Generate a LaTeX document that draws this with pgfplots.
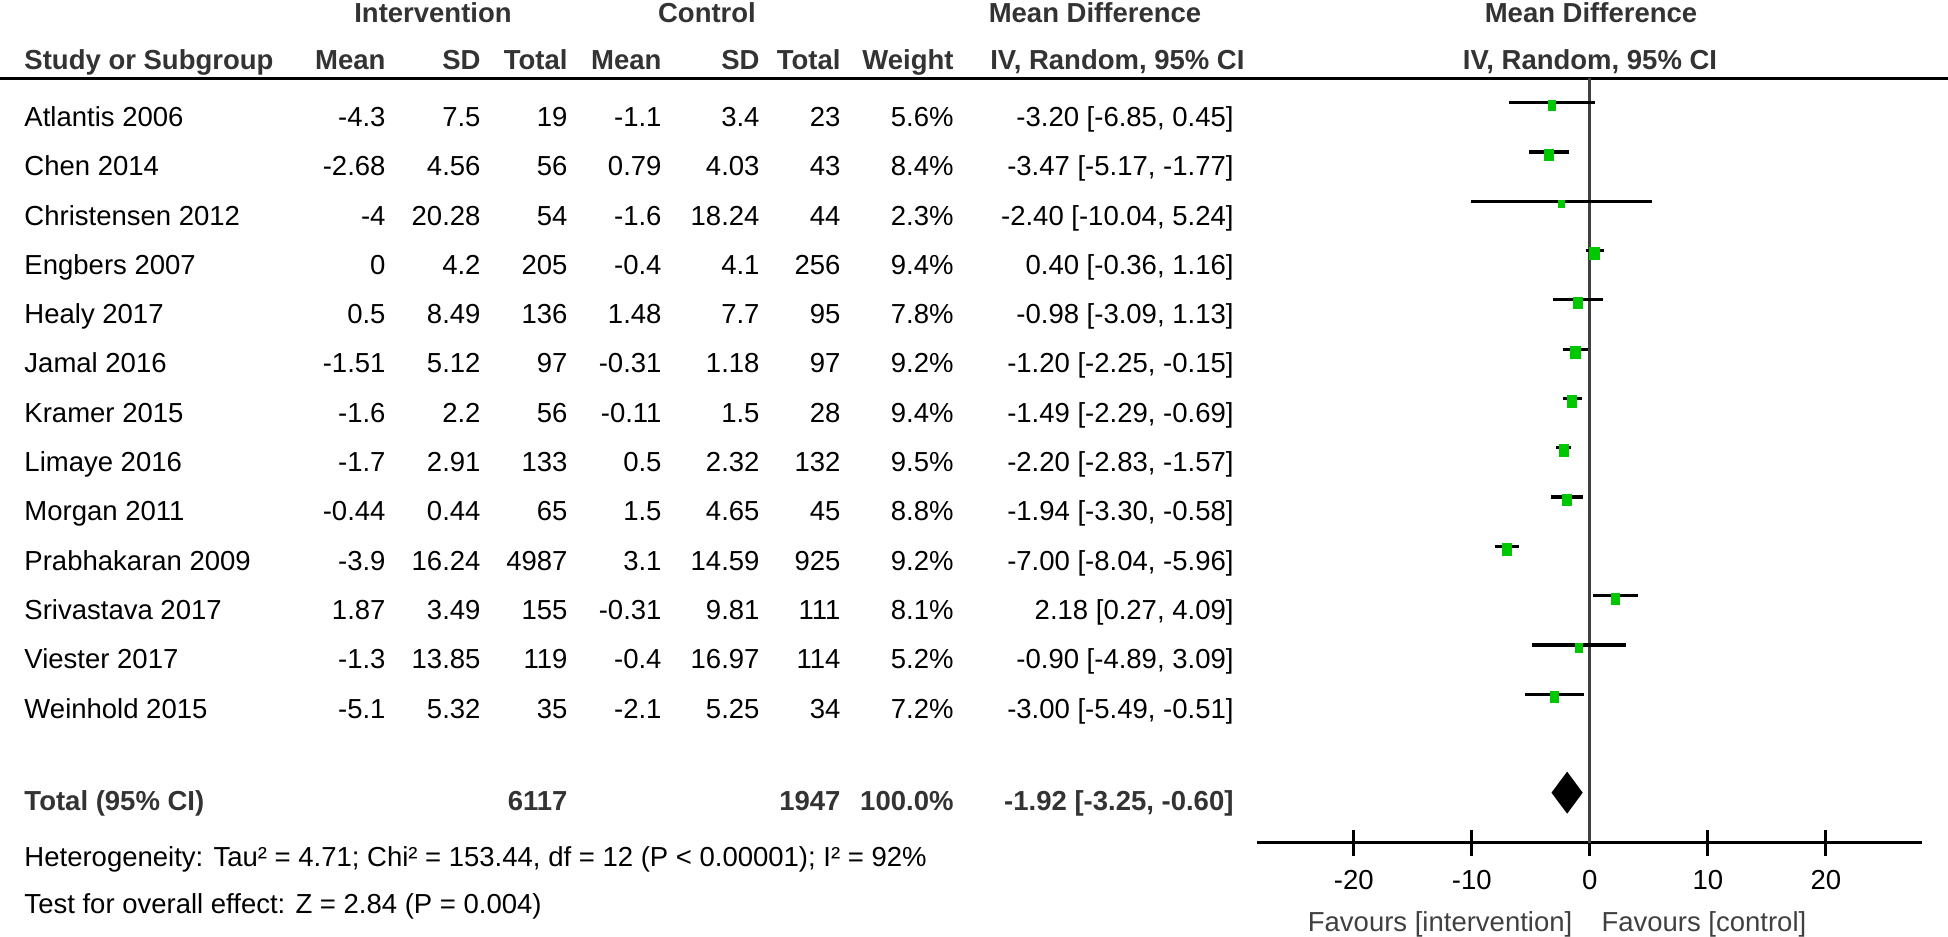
\documentclass[border=0pt]{standalone}
\usepackage{pgfplots}
\pgfplotsset{compat=1.18}
\usepackage{pgfplotstable}
\usepackage{fontspec}
\setmainfont{Liberation Sans}

\definecolor{hdr}{HTML}{333333}
\definecolor{sq}{HTML}{00C800}
\definecolor{zero}{HTML}{404040}
\newcommand\fs{\fontsize{11}{13.2}\selectfont}

% upright rectangle mark, a little taller than wide
\pgfdeclareplotmark{vrect}{%
  \pgfpathrectangle{\pgfpoint{-0.8\pgfplotmarksize}{-\pgfplotmarksize}}%
    {\pgfpoint{1.6\pgfplotmarksize}{2\pgfplotmarksize}}%
  \pgfusepathqfill}

% study rows: means, SDs, totals, weight (%), mean difference and 95% CI
\pgfplotstableread[col sep=semicolon]{
name;m1;sd1;n1;m2;sd2;n2;w;md;lo;hi;ci
Atlantis 2006;-4.3;7.5;19;-1.1;3.4;23;5.6;-3.20;-6.85;0.45;-3.20 [-6.85, 0.45]
Chen 2014;-2.68;4.56;56;0.79;4.03;43;8.4;-3.47;-5.17;-1.77;-3.47 [-5.17, -1.77]
Christensen 2012;-4;20.28;54;-1.6;18.24;44;2.3;-2.40;-10.04;5.24;-2.40 [-10.04, 5.24]
Engbers 2007;0;4.2;205;-0.4;4.1;256;9.4;0.40;-0.36;1.16;0.40 [-0.36, 1.16]
Healy 2017;0.5;8.49;136;1.48;7.7;95;7.8;-0.98;-3.09;1.13;-0.98 [-3.09, 1.13]
Jamal 2016;-1.51;5.12;97;-0.31;1.18;97;9.2;-1.20;-2.25;-0.15;-1.20 [-2.25, -0.15]
Kramer 2015;-1.6;2.2;56;-0.11;1.5;28;9.4;-1.49;-2.29;-0.69;-1.49 [-2.29, -0.69]
Limaye 2016;-1.7;2.91;133;0.5;2.32;132;9.5;-2.20;-2.83;-1.57;-2.20 [-2.83, -1.57]
Morgan 2011;-0.44;0.44;65;1.5;4.65;45;8.8;-1.94;-3.30;-0.58;-1.94 [-3.30, -0.58]
Prabhakaran 2009;-3.9;16.24;4987;3.1;14.59;925;9.2;-7.00;-8.04;-5.96;-7.00 [-8.04, -5.96]
Srivastava 2017;1.87;3.49;155;-0.31;9.81;111;8.1;2.18;0.27;4.09;2.18 [0.27, 4.09]
Viester 2017;-1.3;13.85;119;-0.4;16.97;114;5.2;-0.90;-4.89;3.09;-0.90 [-4.89, 3.09]
Weinhold 2015;-5.1;5.32;35;-2.1;5.25;34;7.2;-3.00;-5.49;-0.51;-3.00 [-5.49, -0.51]
}\studies

\pgfplotsset{
  rcol/.style={only marks, mark=none, point meta=explicit symbolic,
    nodes near coords={\pgfplotspointmeta},
    every node near coord/.append style={anchor=base east, inner sep=0pt, font=\fs, text=black}},
  lcol/.style={rcol, every node near coord/.append style={anchor=base west}},
}
\tikzset{
  hd/.style={font=\fs\bfseries, text=hdr, inner sep=0pt},
  tx/.style={font=\fs, text=black, inner sep=0pt},
}

\begin{document}
\begin{tikzpicture}
\begin{axis}[name=tab, hide axis, scale only axis, width=779.2pt, height=374.8pt,
    xmin=0, xmax=1948, ymin=0, ymax=937, y dir=reverse, clip=false,
    anchor=south west, at={(0,0)}]
  \addplot[black, line width=1.4pt] coordinates {(0,78.3) (1948,78.3)};

  \addplot[lcol] table[x expr=24, y expr=126.5+49.3*\coordindex, meta=name] {\studies};
  \addplot[rcol] table[x expr=386, y expr=126.5+49.3*\coordindex, meta=m1] {\studies};
  \addplot[rcol] table[x expr=481, y expr=126.5+49.3*\coordindex, meta=sd1] {\studies};
  \addplot[rcol] table[x expr=568, y expr=126.5+49.3*\coordindex, meta=n1] {\studies};
  \addplot[rcol] table[x expr=662, y expr=126.5+49.3*\coordindex, meta=m2] {\studies};
  \addplot[rcol] table[x expr=760, y expr=126.5+49.3*\coordindex, meta=sd2] {\studies};
  \addplot[rcol] table[x expr=841, y expr=126.5+49.3*\coordindex, meta=n2] {\studies};
  \addplot[rcol, nodes near coords={\pgfplotspointmeta\%}] table[x expr=954, y expr=126.5+49.3*\coordindex, meta=w] {\studies};
  \addplot[rcol] table[x expr=1234, y expr=126.5+49.3*\coordindex, meta=ci] {\studies};

  \node[hd, anchor=base] at (axis cs:433,22.5) {Intervention};
  \node[hd, anchor=base] at (axis cs:707,22.5) {Control};
  \node[hd, anchor=base] at (axis cs:1095,22.5) {Mean Difference};
  \node[hd, anchor=base] at (axis cs:1591,22.5) {Mean Difference};
  \node[hd, anchor=base west] at (axis cs:24,69.8) {Study or Subgroup};
  \node[hd, anchor=base east] at (axis cs:386,69.8) {Mean};
  \node[hd, anchor=base east] at (axis cs:481,69.8) {SD};
  \node[hd, anchor=base east] at (axis cs:568,69.8) {Total};
  \node[hd, anchor=base east] at (axis cs:662,69.8) {Mean};
  \node[hd, anchor=base east] at (axis cs:760,69.8) {SD};
  \node[hd, anchor=base east] at (axis cs:841,69.8) {Total};
  \node[hd, anchor=base east] at (axis cs:954,69.8) {Weight};
  \node[hd, anchor=base east] at (axis cs:1245,69.8) {IV, Random, 95\% CI};
  \node[hd, anchor=base] at (axis cs:1590,69.8) {IV, Random, 95\% CI};

  \node[hd, anchor=base west] at (axis cs:24,810.8) {Total (95\% CI)};
  \node[hd, anchor=base east] at (axis cs:568,810.8) {6117};
  \node[hd, anchor=base east] at (axis cs:841,810.8) {1947};
  \node[hd, anchor=base east] at (axis cs:954,810.8) {100.0\%};
  \node[hd, anchor=base east] at (axis cs:1234,810.8) {-1.92 [-3.25, -0.60]};
  \node[tx, anchor=base west] at (axis cs:24,866.5) {Heterogeneity: Tau² = 4.71; Chi² = 153.44, df = 12 (P < 0.00001); I² = 92\%};
  \node[tx, anchor=base west] at (axis cs:24,913.1) {Test for overall effect: Z = 2.84 (P = 0.004)};

  \coordinate (fsw) at (axis cs:1257,843);
\end{axis}

\begin{axis}[at={(fsw)}, anchor=south west, scale only axis, width=266pt, height=305.88pt,
    xmin=-28.2, xmax=28.15, ymin=-843, ymax=-78.3, clip=false,
    axis x line=bottom, axis y line=none, x axis line style={-, line width=1.2pt, black},
    xtick={-20,-10,0,10,20}, ytick=\empty, tick align=center, major tick length=10.4pt,
    tick style={black, line width=1.2pt},
    xticklabel style={font=\fs, inner sep=0pt, anchor=base, yshift=-13.5pt},
    /pgf/number format/assume math mode=true]
  \addplot[zero, line width=1.3pt] coordinates {(0,-78.3) (0,-843)};
  \addplot[draw=none, mark=none,
      error bars/.cd, x dir=both, x explicit, error mark=none,
      error bar style={black, line width=1.3pt}]
    table[x=md, y expr=-(102.7+49.3*\coordindex),
      x error plus expr=\thisrow{hi}-\thisrow{md},
      x error minus expr=\thisrow{md}-\thisrow{lo}] {\studies};
  \addplot[scatter, only marks, mark=vrect,
      scatter/use mapped color={draw=sq, fill=sq},
      visualization depends on={\thisrow{w} \as \wt},
      scatter/@pre marker code/.append style={/tikz/mark size={0.6pt*(2.3+0.22*\wt)}}]
    table[x=md, y expr=-(105.7+49.3*\coordindex)] {\studies};
  \addplot[fill=black, draw=none] coordinates {(-3.25,-792.7) (-1.92,-771.7) (-0.60,-792.7) (-1.92,-813.7) (-3.25,-792.7)};
  \node[font=\fs, text=zero, inner sep=0pt, anchor=base east] at (axis cs:-1.44,-931.8) {Favours [intervention]};
  \node[font=\fs, text=zero, inner sep=0pt, anchor=base west] at (axis cs:0.95,-931.8) {Favours [control]};
\end{axis}
\pgfresetboundingbox
\path (tab.south west) rectangle (tab.north east);
\end{tikzpicture}
\end{document}
